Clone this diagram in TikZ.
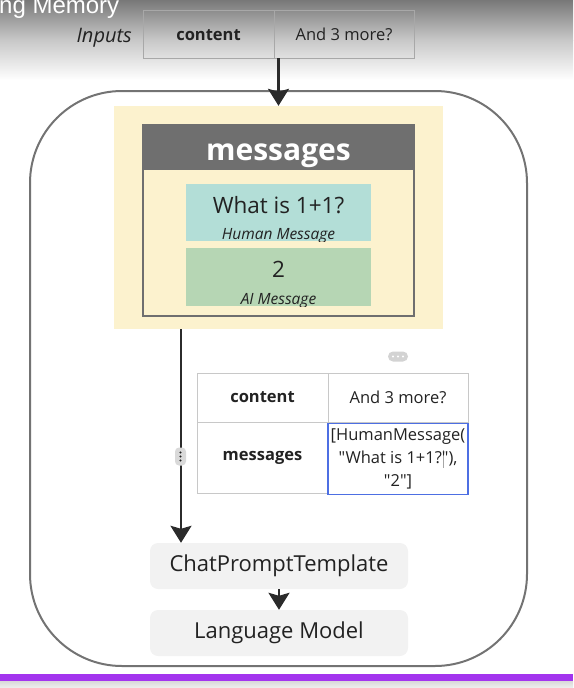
\documentclass[tikz,border=0pt]{standalone}
\usepackage{fontspec}
\setmainfont{Open Sans}[Ligatures=TeXOff]
\newfontfamily\titlefont{Liberation Sans}
\usetikzlibrary{arrows.meta}
\definecolor{topgray}{HTML}{787878}
\definecolor{midgray}{HTML}{C8C8C8}
\definecolor{ink}{HTML}{222222}
\definecolor{celltop}{HTML}{A8A8A8}
\definecolor{cellmid}{HTML}{C8C8C8}
\definecolor{framegray}{HTML}{737373}
\definecolor{memyellow}{HTML}{FCF2CE}
\definecolor{hdrgray}{HTML}{6F6F6F}
\definecolor{humanfill}{HTML}{B3DED7}
\definecolor{aifill}{HTML}{B6D6B4}
\definecolor{selblue}{HTML}{4D6FE3}
\definecolor{stepfill}{HTML}{F2F2F2}
\definecolor{pillgray}{HTML}{D3D3D3}
\definecolor{barpurple}{HTML}{A334EE}
\definecolor{arrowink}{HTML}{2B2B2B}

\begin{document}
\begin{tikzpicture}[x=1pt,y=-1pt,
  incell/.style={draw=celltop, line width=0.8pt, inner sep=0pt, minimum height=48pt, text=ink, text height=13pt, text depth=0pt, font=\fontsize{16.5}{20}\selectfont},
  tcell/.style={draw=cellmid, line width=0.8pt, inner sep=0pt, text=ink, font=\fontsize{16.5}{20}\selectfont},
  msgbox/.style={inner sep=0pt, minimum width=185pt, minimum height=57pt},
  stepbox/.style={fill=stepfill, rounded corners=8pt, inner sep=0pt, minimum width=258pt, minimum height=46pt, text=ink, font=\fontsize{22}{26}\selectfont},
  flow/.style={draw=arrowink, line width=2.4pt, -{Stealth[length=17pt,width=21pt,inset=3pt]}},
  txt/.style={inner sep=0pt, anchor=base, text=ink}]
\useasboundingbox (0,0) rectangle (573,688);

\shade[top color=topgray, bottom color=midgray] (0,0) rectangle (573,40);
\shade[top color=midgray, bottom color=white] (0,40) rectangle (573,80);
\fill[barpurple] (0,674) rectangle (573,681);
\shade[top color=black!15, bottom color=black!6] (0,681) rectangle (573,688);

\node[anchor=base west, inner sep=0pt, text=white, font=\titlefont\fontsize{24}{24}\selectfont] (title) at (-1,13) {ng Memory};

\node[txt, anchor=base east, font=\itshape\fontsize{20}{22}\selectfont] (inputs) at (132,42) {Inputs};
\node[incell, minimum width=131pt, font=\bfseries\fontsize{16.5}{20}\selectfont] (incontent) at (208.5,34) {content};
\node[incell, minimum width=140pt] (inmore) at (344,34) {And 3 more?};
\coordinate (inbottom) at (278.5,58);

\draw[framegray, line width=2pt, rounded corners=92pt] (30,91) rectangle (527,666);

\node[fill=memyellow, inner sep=0pt, minimum width=329pt, minimum height=223pt] (memory) at (278.5,217.5) {};
\draw[hdrgray, line width=2pt, fill=memyellow] (143,125) rectangle (414,316);
\fill[hdrgray] (143,125) rectangle (414,170);
\node[txt, text=white, font=\bfseries\fontsize{30}{32}\selectfont] (msghdr) at (278.5,160) {messages};

\node[msgbox, fill=humanfill] (human) at (278.5,212.5) {};
\node[msgbox, fill=aifill, minimum height=58pt] (ai) at (278.5,277) {};
\begin{scope}
\clip (human.north west) rectangle (human.south east);
\node[txt, font=\fontsize{22.5}{24}\selectfont] (humantext) at (278.5,213) {What is 1+1?};
\node[txt, font=\itshape\fontsize{15.5}{17}\selectfont] (humanlabel) at (278.5,239) {Human Message};
\end{scope}
\begin{scope}
\clip (ai.north west) rectangle (ai.south east);
\node[txt, font=\fontsize{22.5}{24}\selectfont] (aitext) at (278.5,277) {2};
\node[txt, font=\itshape\fontsize{15.5}{17}\selectfont] (ailabel) at (278.5,304) {AI Message};
\end{scope}

\draw[flow] (inbottom) -- (memory.north);

\node[fill=pillgray, rounded corners=5pt, inner sep=0pt, minimum width=20pt, minimum height=10pt] (pill) at (398,356.5) {};
\foreach \dx in {-5,0,5}
  \fill[white] ([xshift=\dx pt]pill.center) circle (1.2pt);

\node[tcell, minimum width=131pt, minimum height=49pt, font=\bfseries\fontsize{16.5}{20}\selectfont] (tcontent) at (262.5,397.5) {content};
\node[tcell, minimum width=140pt, minimum height=49pt] (tmore) at (398,397.5) {And 3 more?};
\node[tcell, minimum width=131pt, minimum height=71pt, font=\bfseries\fontsize{16.5}{20}\selectfont] (tmsgs) at (262.5,457.5) {messages};
\node[tcell, draw=selblue, line width=1.2pt, minimum width=140pt, minimum height=71pt, align=center, font=\fontsize{16.5}{23.3}\selectfont] (tlist) at (398,459) {[HumanMessage(\\"What is 1+1?\rlap{\kern0.6pt\textcolor{black!35}{\rule[-4pt]{0.6pt}{18pt}}}"),\\"2"]};

\node[stepbox] (prompt) at (279,566) {ChatPromptTemplate};
\node[stepbox] (model) at (279,633) {Language Model};

\coordinate (split) at (181,329);
\draw[flow] (split) -- (split |- prompt.north);
\draw[flow] (prompt.south) -- (model.north);

\node[fill=black!15, rounded corners=4pt, inner sep=0pt, minimum width=11pt, minimum height=18pt] (grip) at (180.5,456.5) {};
\foreach \dy in {-4,0,4}
  \fill[ink] ([yshift=\dy pt]grip.center) circle (1.2pt);
\end{tikzpicture}
\end{document}
